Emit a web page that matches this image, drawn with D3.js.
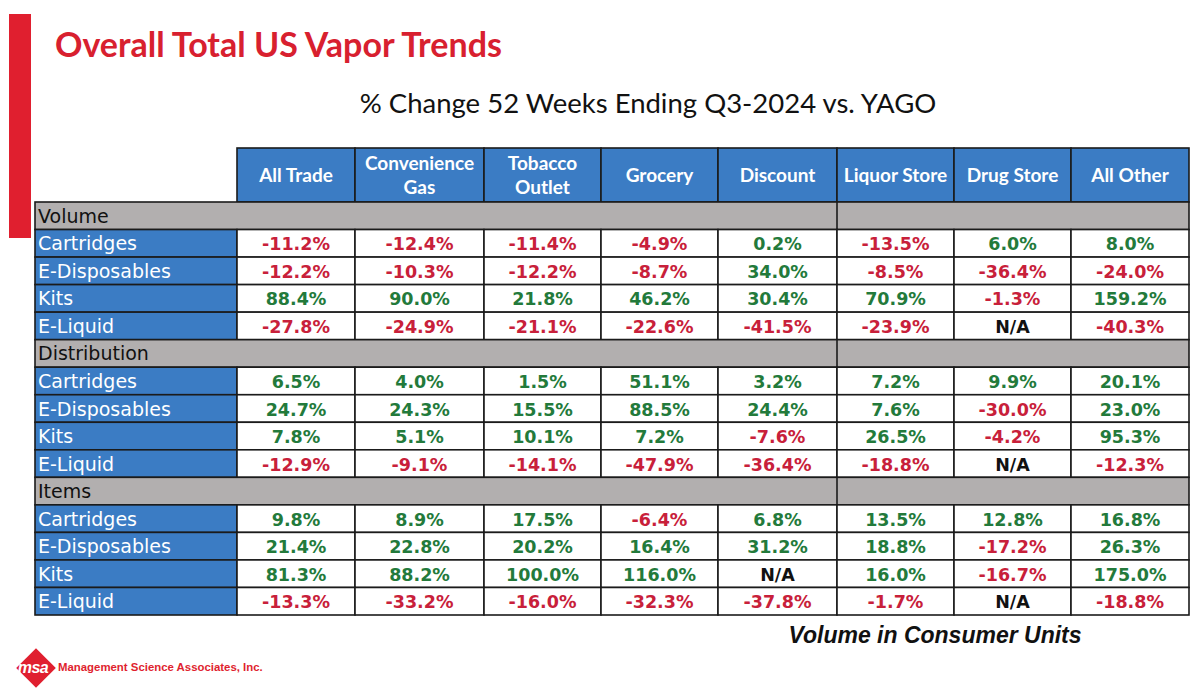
<!DOCTYPE html>
<html>
<head>
<meta charset="utf-8">
<script src="https://cdn.jsdelivr.net/npm/d3@7/dist/d3.min.js"></script>
<style>
  html, body { margin: 0; padding: 0; background: #ffffff; }
  svg { display: block; }
</style>
</head>
<body>
<svg id="chart" width="1200" height="694"></svg>
<script>
// ---------- DATA ----------
const title = "Overall Total US Vapor Trends";
const subtitle = "% Change 52 Weeks Ending Q3-2024 vs. YAGO";
const footnote = "Volume in Consumer Units";
const company = "Management Science Associates, Inc.";

const channels = [
  ["All Trade"], ["Convenience", "Gas"], ["Tobacco", "Outlet"], ["Grocery"],
  ["Discount"], ["Liquor Store"], ["Drug Store"], ["All Other"]
];
const sections = ["Volume", "Distribution", "Items"];
const products = ["Cartridges", "E-Disposables", "Kits", "E-Liquid"];

// values in % change; null = N/A
const volumeValues = [
  [-11.2, -12.4, -11.4, -4.9, 0.2, -13.5, 6.0, 8.0],
  [-12.2, -10.3, -12.2, -8.7, 34.0, -8.5, -36.4, -24.0],
  [88.4, 90.0, 21.8, 46.2, 30.4, 70.9, -1.3, 159.2],
  [-27.8, -24.9, -21.1, -22.6, -41.5, -23.9, null, -40.3]
];
const distributionValues = [
  [6.5, 4.0, 1.5, 51.1, 3.2, 7.2, 9.9, 20.1],
  [24.7, 24.3, 15.5, 88.5, 24.4, 7.6, -30.0, 23.0],
  [7.8, 5.1, 10.1, 7.2, -7.6, 26.5, -4.2, 95.3],
  [-12.9, -9.1, -14.1, -47.9, -36.4, -18.8, null, -12.3]
];
const itemsValues = [
  [9.8, 8.9, 17.5, -6.4, 6.8, 13.5, 12.8, 16.8],
  [21.4, 22.8, 20.2, 16.4, 31.2, 18.8, -17.2, 26.3],
  [81.3, 88.2, 100.0, 116.0, null, 16.0, -16.7, 175.0],
  [-13.3, -33.2, -16.0, -32.3, -37.8, -1.7, null, -18.8]
];
const sectionValues = [volumeValues, distributionValues, itemsValues];

// ---------- STYLE / LAYOUT ----------
const C = {
  red: "#e01f2f",
  titleRed: "#d8202f",
  blue: "#3b7cc4",
  gray: "#b2afaf",
  line: "#1b1b1b",
  pos: "#237a3b",
  neg: "#c8203a",
  na: "#111111"
};
const colWeights = [118, 129, 117, 117, 119, 117, 117, 118]; // relative column widths (layout)

const svg = d3.select("#chart");

// red side bar
svg.append("rect").attr("x", 9).attr("y", 14).attr("width", 22).attr("height", 224).attr("fill", C.red);

// title
svg.append("text").attr("x", 55).attr("y", 57)
  .attr("font-family", "Lato, 'Open Sans', sans-serif").attr("font-weight", 700)
  .attr("font-size", 34).attr("fill", C.titleRed).text(title);

svg.append("text").attr("x", 648).attr("y", 113).attr("text-anchor", "middle")
  .attr("font-family", "Lato, 'Open Sans', sans-serif").attr("font-weight", 400)
  .attr("font-size", 27.5).attr("fill", "#111").text(subtitle);

// ---------- TABLE via scales ----------
const tableLeft = 35, labelRight = 237, tableRight = 1189;
const headerTop = 148, bodyTop = 202, bodyBottom = 615;

const cum = [0, ...Array.from(d3.cumsum(colWeights))];
const xLin = d3.scaleLinear().domain([0, d3.sum(colWeights)]).range([labelRight, tableRight]);
const colX = i => xLin(cum[i]);
const colW = i => xLin(cum[i + 1]) - xLin(cum[i]);
const colIdx = d3.range(channels.length);

// rows
const rows = [];
sections.forEach((s, si) => {
  rows.push({ type: "section", label: s, key: "s" + si });
  products.forEach((p, pi) => rows.push({ type: "data", label: p, key: "r" + si + "_" + pi, values: sectionValues[si][pi] }));
});
const y = d3.scaleBand().domain(rows.map(r => r.key)).range([bodyTop, bodyBottom]).padding(0);

const lineW = 1.6;

// header cells
const hdr = svg.append("g");
hdr.selectAll("rect").data(colIdx).join("rect")
  .attr("x", i => colX(i)).attr("y", headerTop)
  .attr("width", i => colW(i)).attr("height", bodyTop - headerTop)
  .attr("fill", C.blue).attr("stroke", C.line).attr("stroke-width", lineW);

hdr.selectAll("text").data(colIdx).join("text")
  .attr("text-anchor", "middle")
  .attr("font-family", "Lato, 'Open Sans', sans-serif").attr("font-weight", 700)
  .attr("font-size", 19).attr("fill", "#fff")
  .each(function (i) {
    const lines = channels[i];
    const t = d3.select(this);
    const cx = colX(i) + colW(i) / 2;
    const mid = (headerTop + bodyTop) / 2;
    const lh = 24;
    const start = mid - (lines.length - 1) * lh / 2 + 7;
    lines.forEach((ln, k) => {
      t.append("tspan").attr("x", cx).attr("y", start + k * lh).text(ln);
    });
  });

// body rows
const body = svg.append("g");
const dividerCol = 5; // section rows split before "Liquor Store"

rows.forEach(r => {
  const ry = y(r.key), rh = y.bandwidth();
  const g = body.append("g");
  if (r.type === "section") {
    g.append("rect").attr("x", tableLeft).attr("y", ry).attr("width", tableRight - tableLeft).attr("height", rh)
      .attr("fill", C.gray).attr("stroke", C.line).attr("stroke-width", lineW);
    g.append("line").attr("x1", colX(dividerCol)).attr("x2", colX(dividerCol)).attr("y1", ry).attr("y2", ry + rh)
      .attr("stroke", C.line).attr("stroke-width", lineW);
    g.append("text").attr("x", tableLeft + 3).attr("y", ry + rh / 2 + 7)
      .attr("font-family", "'DejaVu Sans', sans-serif").attr("font-size", 19).attr("fill", "#111")
      .text(r.label);
  } else {
    g.append("rect").attr("x", tableLeft).attr("y", ry).attr("width", labelRight - tableLeft).attr("height", rh)
      .attr("fill", C.blue).attr("stroke", C.line).attr("stroke-width", lineW);
    g.append("text").attr("x", tableLeft + 3).attr("y", ry + rh / 2 + 7)
      .attr("font-family", "'DejaVu Sans', sans-serif").attr("font-size", 19).attr("fill", "#fff")
      .text(r.label);
    g.selectAll("rect.cell").data(r.values).join("rect").attr("class", "cell")
      .attr("x", (d, i) => colX(i)).attr("y", ry).attr("width", (d, i) => colW(i)).attr("height", rh)
      .attr("fill", "#fff").attr("stroke", C.line).attr("stroke-width", lineW);
    g.selectAll("text.val").data(r.values).join("text").attr("class", "val")
      .attr("x", (d, i) => colX(i) + colW(i) / 2).attr("y", ry + rh / 2 + 7)
      .attr("text-anchor", "middle")
      .attr("font-family", "'DejaVu Sans', sans-serif").attr("font-weight", 700).attr("font-size", 17.5)
      .attr("fill", d => d === null ? C.na : (d < 0 ? C.neg : C.pos))
      .text(d => d === null ? "N/A" : d.toFixed(1) + "%");
  }
});

// footnote
svg.append("text").attr("x", 935).attr("y", 643).attr("text-anchor", "middle")
  .attr("font-family", "'Liberation Sans', Arial, sans-serif").attr("font-weight", 700).attr("font-style", "italic")
  .attr("font-size", 23).attr("fill", "#111").text(footnote);

// logo
const logo = svg.append("g");
logo.append("rect").attr("x", -14).attr("y", -14).attr("width", 28).attr("height", 28)
  .attr("fill", C.red).attr("transform", "translate(36,668) rotate(45)");
logo.append("text").attr("x", 33).attr("y", 673).attr("text-anchor", "middle")
  .attr("font-family", "'Liberation Sans', Arial, sans-serif").attr("font-weight", 700).attr("font-style", "italic")
  .attr("font-size", 16).attr("fill", "#fff").attr("letter-spacing", -0.5).text("msa");
logo.append("text").attr("x", 58).attr("y", 671)
  .attr("font-family", "'Liberation Sans', Arial, sans-serif").attr("font-weight", 700)
  .attr("font-size", 11.4).attr("fill", C.red).text(company);
</script>
</body>
</html>
